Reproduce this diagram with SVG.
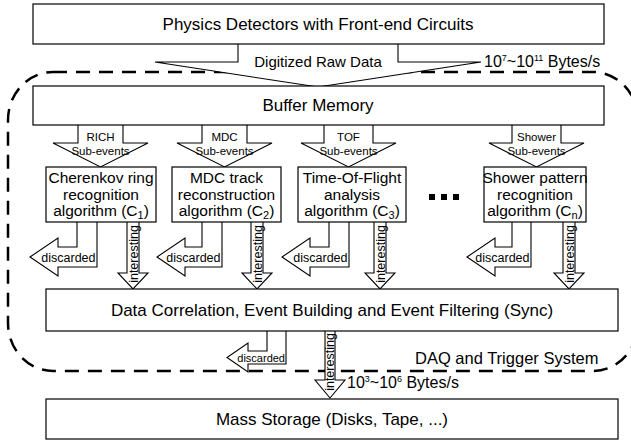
<svg xmlns="http://www.w3.org/2000/svg" width="631" height="440" viewBox="0 0 631 440">
  <style>
    .box { fill: #fff; stroke: #000; stroke-width: 1.2; }
    .arrow { fill: #fff; stroke: #000; stroke-width: 1.1; stroke-linejoin: miter; }
    .t { font-family: "Liberation Sans", Arial, sans-serif; fill: #000; }
    .big { font-size: 17px; text-anchor: middle; }
    .alg { font-size: 15.5px; text-anchor: middle; }
    .sub { font-size: 11.5px; text-anchor: middle; }
    .small { font-size: 12.5px; }
    .rate { font-size: 16px; }
    .boundary { fill: none; stroke: #000; stroke-width: 2.5; stroke-dasharray: 14 9; }
  </style>

  <!-- DAQ and Trigger System boundary -->
  <g id="daq-boundary">
    <path class="boundary" d="M53,72 H593 A45,48 0 0 1 638,120 V323 A45,48 0 0 1 593,371 H53 A45,48 0 0 1 8,323 V120 A45,48 0 0 1 53,72 Z"/>
    <text class="t" x="415" y="364" font-size="16.5">DAQ and Trigger System</text>
  </g>

  <!-- Connectors: block arrows -->
  <g id="connectors">
    <!-- raw data into the buffer -->
    <path class="arrow" d="M238,44 V62 H155 L318,87 L481,62 H398 V44"/>
    <text class="t" x="318" y="67" font-size="15" text-anchor="middle">Digitized Raw Data</text>
    <text class="t rate" x="484" y="67">10<tspan font-size="9" dy="-6">7</tspan><tspan dy="6">~10</tspan><tspan font-size="9" dy="-6">11</tspan><tspan dy="6"> Bytes/s</tspan></text>

    <!-- sub-event arrows -->
    <path class="arrow" d="M78,125 V143 H53 L100.5,167 L148,143 H123 V125"/>
    <text class="t sub" x="100.5" y="141">RICH</text>
    <text class="t sub" x="100.5" y="155">Sub-events</text>

    <path class="arrow" d="M202,125 V143 H177 L224.5,167 L272,143 H247 V125"/>
    <text class="t sub" x="224.5" y="141">MDC</text>
    <text class="t sub" x="224.5" y="155">Sub-events</text>

    <path class="arrow" d="M324,125 V143 H301 L348.5,167 L396,143 H373 V125"/>
    <text class="t sub" x="348.5" y="141">TOF</text>
    <text class="t sub" x="348.5" y="155">Sub-events</text>

    <path class="arrow" d="M512,125 V143 H489 L536.5,167 L584,143 H561 V125"/>
    <text class="t sub" x="536.5" y="141">Shower</text>
    <text class="t sub" x="536.5" y="155">Sub-events</text>

    <!-- discarded outputs -->
    <path class="arrow" d="M77,222 V247 H58 V238 L30,257 L58,276 V267 H97 V222"/>
    <text class="t small" x="95.5" y="261.5" text-anchor="end">discarded</text>

    <path class="arrow" d="M202,222 V247 H185 V238 L157,257 L185,276 V267 H222 V222"/>
    <text class="t small" x="220.5" y="261.5" text-anchor="end">discarded</text>

    <path class="arrow" d="M329,222 V247 H310 V238 L282,257 L310,276 V267 H349 V222"/>
    <text class="t small" x="347.5" y="261.5" text-anchor="end">discarded</text>

    <path class="arrow" d="M512,222 V247 H495 V238 L467,257 L495,276 V267 H531 V222"/>
    <text class="t small" x="529.5" y="261.5" text-anchor="end">discarded</text>

    <!-- interesting outputs -->
    <path class="arrow" d="M127,222 V273 H118 L133,289 L148,273 H139 V222"/>
    <text class="t small" transform="translate(137.5,254) rotate(-90)" text-anchor="middle">interesting</text>

    <path class="arrow" d="M251,222 V273 H242 L257,289 L272,273 H263 V222"/>
    <text class="t small" transform="translate(261.5,254) rotate(-90)" text-anchor="middle">interesting</text>

    <path class="arrow" d="M374,222 V273 H365 L380,289 L395,273 H386 V222"/>
    <text class="t small" transform="translate(384.5,254) rotate(-90)" text-anchor="middle">interesting</text>

    <path class="arrow" d="M563,222 V273 H554 L569,289 L584,273 H575 V222"/>
    <text class="t small" transform="translate(573.5,254) rotate(-90)" text-anchor="middle">interesting</text>

    <!-- outputs of the sync stage -->
    <path class="arrow" d="M267,331 V351 H248 V343 L227,357.5 L248,372 V364 H286 V331"/>
    <text class="t" x="285" y="361.5" font-size="11" text-anchor="end">discarded</text>

    <path class="arrow" d="M325,331 V380 H315 L330,398 L345,380 H335 V331"/>
    <text class="t small" transform="translate(334,362) rotate(-90)" text-anchor="middle">interesting</text>
    <text class="t rate" x="347" y="388">10<tspan font-size="9" dy="-6">3</tspan><tspan dy="6">~10</tspan><tspan font-size="9" dy="-6">6</tspan><tspan dy="6"> Bytes/s</tspan></text>
  </g>

  <!-- Nodes -->
  <g id="detectors">
    <rect class="box" x="33" y="4" width="571" height="40"/>
    <text class="t big" x="318" y="30">Physics Detectors with Front-end Circuits</text>
  </g>

  <g id="buffer-memory">
    <rect class="box" x="33" y="86" width="571" height="39"/>
    <text class="t big" x="318" y="111">Buffer Memory</text>
  </g>

  <g id="alg-c1">
    <rect class="box" x="46" y="167" width="110" height="55"/>
    <text class="t alg" x="101" y="183">Cherenkov ring</text>
    <text class="t alg" x="101" y="200">recognition</text>
    <text class="t alg" x="101" y="216">algorithm (C<tspan font-size="11" dy="3">1</tspan><tspan dy="-3">)</tspan></text>
  </g>

  <g id="alg-c2">
    <rect class="box" x="172" y="167" width="109" height="55"/>
    <text class="t alg" x="226.5" y="183">MDC track</text>
    <text class="t alg" x="226.5" y="200">reconstruction</text>
    <text class="t alg" x="226.5" y="216">algorithm (C<tspan font-size="11" dy="3">2</tspan><tspan dy="-3">)</tspan></text>
  </g>

  <g id="alg-c3">
    <rect class="box" x="298" y="167" width="108" height="55"/>
    <text class="t alg" x="352" y="183">Time-Of-Flight</text>
    <text class="t alg" x="352" y="200">analysis</text>
    <text class="t alg" x="352" y="216">algorithm (C<tspan font-size="11" dy="3">3</tspan><tspan dy="-3">)</tspan></text>
  </g>

  <g id="ellipsis">
    <rect x="429" y="194" width="6" height="6" fill="#000"/>
    <rect x="441" y="194" width="6" height="6" fill="#000"/>
    <rect x="453" y="194" width="6" height="6" fill="#000"/>
  </g>

  <g id="alg-cn">
    <rect class="box" x="484" y="167" width="102" height="55"/>
    <text class="t alg" x="535" y="183">Shower pattern</text>
    <text class="t alg" x="535" y="200">recognition</text>
    <text class="t alg" x="535" y="216">algorithm (C<tspan font-size="11" dy="3">n</tspan><tspan dy="-3">)</tspan></text>
  </g>

  <g id="sync">
    <rect class="box" x="46" y="289" width="572" height="42"/>
    <text class="t big" x="332" y="316">Data Correlation, Event Building and Event Filtering (Sync)</text>
  </g>

  <g id="mass-storage">
    <rect class="box" x="46" y="399" width="572" height="40"/>
    <text class="t big" x="332" y="425">Mass Storage (Disks, Tape, ...)</text>
  </g>
</svg>
